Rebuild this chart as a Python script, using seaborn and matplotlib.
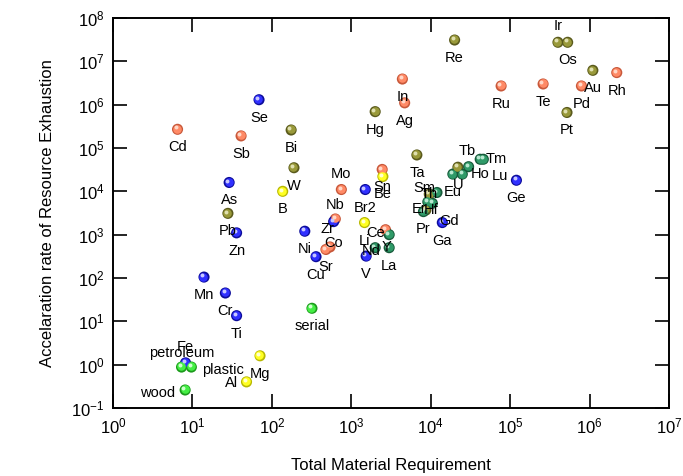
import matplotlib
matplotlib.use('Agg')
import matplotlib.pyplot as plt
import matplotlib.transforms as mtransforms
from matplotlib.ticker import LogLocator, NullLocator
import pandas as pd
import seaborn as sns

# material, total material requirement, acceleration rate, colour group
names = ['Cd', 'Sb', 'Mo', 'Nb', 'Sn', 'In', 'Ag', 'Rh', 'Ru', 'Te', 'Pd', 'Co', 'Sr', 'Ce',
         'Bi', 'Hg', 'W', 'Pb', 'Re', 'Ir', 'Os', 'Au', 'Pt', 'Ta', 'U', 'Th', 'Hf',
         'Se', 'As', 'Br2', 'Ge', 'Ga', 'Zr', 'Ni', 'Cu', 'V', 'Zn', 'Mn', 'Cr', 'Ti', 'Fe',
         'B', 'Be', 'Li', 'Mg', 'Al',
         'Tb', 'Tm', 'Lu', 'Eu', 'Ho', 'Sm', 'Pr', 'Gd', 'Er', 'Nd', 'La', 'Y',
         'serial', 'petroleum', 'plastic', 'wood']
tmr = [6.5, 41, 750, 630, 2450, 4400, 4700, 2.2e6, 7.7e4, 2.6e5, 7.9e5, 540, 480, 2700,
       175, 2000, 190, 28, 2.0e4, 4.0e5, 5.3e5, 1.1e6, 5.2e5, 6700, 2.2e4, 9600, 8700,
       69, 29, 1500, 1.2e5, 1.4e4, 600, 260, 360, 1540, 36, 14, 26, 36, 8.2,
       137, 2500, 1470, 71, 48,
       4.2e4, 4.6e4, 3.0e4, 1.9e4, 2.5e4, 1.2e4, 9200, 1.05e4, 8100, 2000, 3000, 3000,
       320, 7.3, 9.7, 8.1]
rate = [2.7e5, 1.9e5, 1.1e4, 2.3e3, 3.2e4, 3.9e6, 1.1e6, 5.5e6, 2.7e6, 3.0e6, 2.7e6, 520, 455, 1.3e3,
        2.6e5, 6.9e5, 3.5e4, 3.1e3, 3.1e7, 2.75e7, 2.75e7, 6.2e6, 6.6e5, 6.9e4, 3.6e4, 8.6e3, 3.7e3,
        1.3e6, 1.6e4, 1.1e4, 1.8e4, 1.9e3, 2.0e3, 1.2e3, 310, 320, 1.1e3, 105, 45, 13.5, 1.1,
        1.0e4, 2.2e4, 1.9e3, 1.6, 0.4,
        5.5e4, 5.5e4, 3.7e4, 2.5e4, 2.5e4, 9.4e3, 5.7e3, 5.3e3, 3.4e3, 500, 500, 1.0e3,
        20, 0.88, 0.88, 0.26]
group = (['salmon'] * 14 + ['olive'] * 13 + ['blue'] * 14 + ['yellow'] * 5
         + ['teal'] * 12 + ['lime'] * 4)

df = pd.DataFrame({'name': names, 'tmr': tmr, 'rate': rate, 'group': group})

body = {'salmon': '#ff8a66', 'olive': '#99993a', 'blue': '#3030ff',
        'yellow': '#ffff22', 'teal': '#2f9a68', 'lime': '#44ee44'}
shade = {'salmon': '#c8583a', 'olive': '#5a5a1c', 'blue': '#0c0c9a',
         'yellow': '#b8b800', 'teal': '#175a3a', 'lime': '#1c9a1c'}
shine = {'salmon': '#ffd8c8', 'olive': '#e0e0b0', 'blue': '#c8c8ff',
         'yellow': '#ffffd0', 'teal': '#b8e8d0', 'lime': '#d0ffd0'}

# label offsets in pixels (right, down); default sits below the marker
label_off = {'Ir': (0, -16), 'Tb': (-13, -8), 'Tm': (13, 0), 'Ho': (18, 0), 'Lu': (31, 9),
             'Sm': (-13, -4), 'Th': (0, 0), 'Er': (-4, -3), 'Hf': (5, 0), 'Pr': (-5, 27),
             'Gd': (17, 18), 'Mo': (0, -16), 'Nb': (0, -14), 'Zr': (-6, 7), 'Co': (4, -4),
             'Ce': (-10, 3), 'Y': (-3, 12), 'Nd': (-4, 3), 'Fe': (0, -16),
             'petroleum': (0, -14), 'plastic': (32, 3), 'wood': (-28, 3), 'Al': (-15, 1)}

sns.set_style('ticks')
plt.rcParams['font.family'] = ['Liberation Sans', 'DejaVu Sans']
plt.rcParams['mathtext.fontset'] = 'custom'
plt.rcParams['mathtext.rm'] = 'Liberation Sans'
for key in ['text.color', 'axes.labelcolor', 'xtick.color', 'ytick.color']:
    plt.rcParams[key] = 'black'

fig = plt.figure(figsize=(6.83, 4.76), dpi=100)
ax = fig.add_axes([0.1654, 0.1429, 0.8141, 0.8193])

sns.scatterplot(data=df, x='tmr', y='rate', hue='group', palette=shade, s=64,
                linewidth=0, legend=False, ax=ax, zorder=3)
hi1 = mtransforms.offset_copy(ax.transData, fig=fig, x=-0.4, y=0.4, units='points')
hi2 = mtransforms.offset_copy(ax.transData, fig=fig, x=-1.3, y=1.3, units='points')
for g, sub in df.groupby('group'):
    ax.scatter(sub['tmr'], sub['rate'], s=38, color=body[g], linewidth=0,
               transform=hi1, zorder=4)
    ax.scatter(sub['tmr'], sub['rate'], s=8, color=shine[g], linewidth=0,
               transform=hi2, zorder=5)

for n, x, y in zip(names, tmr, rate):
    dx, dy = label_off.get(n, (0, 18))
    ax.annotate(n, (x, y), xytext=(dx, -dy), textcoords='offset pixels',
                ha='center', va='center', fontsize=10.5, color='black', zorder=6)

ax.set_xscale('log')
ax.set_yscale('log')
ax.set_xlim(1, 1e7)
ax.set_ylim(1e-1, 1e8)
ax.xaxis.set_major_locator(LogLocator(base=10, numticks=20))
ax.yaxis.set_major_locator(LogLocator(base=10, numticks=20))
ax.xaxis.set_minor_locator(NullLocator())
ax.yaxis.set_minor_locator(NullLocator())
ax.tick_params(which='major', direction='in', length=10, width=1.2, color='black',
               labelcolor='black', top=True, right=True, labelsize=12, pad=6)
for sp in ax.spines.values():
    sp.set_linewidth(1.4)
    sp.set_color('black')

ax.set_xlabel('Total Material Requirement', fontsize=12, labelpad=16)
ax.set_ylabel('Accelaration rate of Resource Exhaustion', fontsize=12, labelpad=12)

fig.savefig('out.png', dpi=100)
